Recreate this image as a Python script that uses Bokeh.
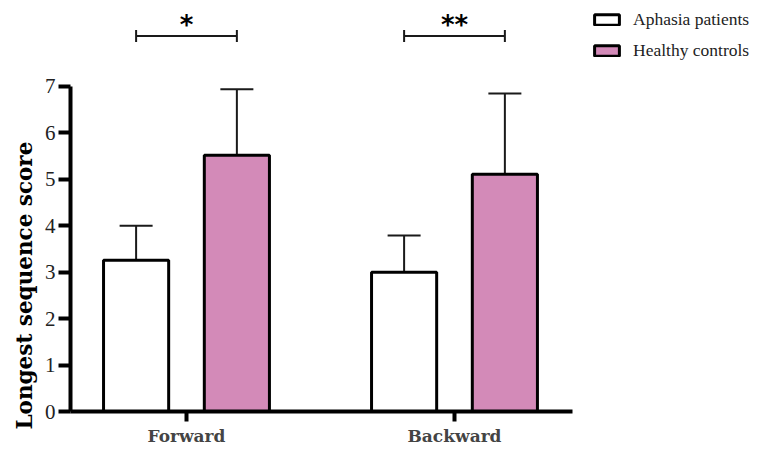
from bokeh.plotting import figure
from bokeh.models import (ColumnDataSource, Range1d, FixedTicker, Whisker, TeeHead,
                          Legend, LegendItem, Title)
from bokeh.core.properties import value
from bokeh.embed import file_html
from bokeh.resources import INLINE

categories = ["Forward", "Backward"]
aphasia_mean = [3.26, 3.00]
aphasia_lower = [2.57, 2.22]
aphasia_upper = [4.00, 3.79]
healthy_mean = [5.52, 5.11]
healthy_lower = [4.14, 3.42]
healthy_upper = [6.94, 6.85]
significance = ["*", "**"]
y_ticks = [0, 1, 2, 3, 4, 5, 6, 7]

SERIF = "Liberation Serif"
BOLD_SERIF = "DejaVu Serif"
PINK = "#d38ab8"
INK = "#000000"
ERR = "#1a1a1a"

xc = [1, 2]
off = 0.188
bw = 0.243
x_a = [x - off for x in xc]
x_h = [x + off for x in xc]

FRAME_H = 411
p = figure(width=753, height=448, output_backend="svg", toolbar_location=None,
           x_range=Range1d(0.5672, 0.5672 + 683 / 268), y_range=Range1d(0, FRAME_H / 46.43),
           min_border_left=70, min_border_right=0, min_border_top=0, min_border_bottom=37)
p.outline_line_color = None
p.xgrid.visible = False
p.ygrid.visible = False

src_a = ColumnDataSource(dict(x=x_a, top=aphasia_mean, lo=aphasia_lower, hi=aphasia_upper))
src_h = ColumnDataSource(dict(x=x_h, top=healthy_mean, lo=healthy_lower, hi=healthy_upper))

r_a = p.vbar(x="x", top="top", bottom=0, width=bw, source=src_a,
             fill_color="white", line_color=INK, line_width=3)
r_h = p.vbar(x="x", top="top", bottom=0, width=bw, source=src_h,
             fill_color=PINK, line_color=INK, line_width=3)

for s in (src_a, src_h):
    w = Whisker(base="x", lower="lo", upper="hi", source=s,
                line_color=ERR, line_width=2,
                upper_head=TeeHead(size=33, line_width=2, line_color=ERR),
                lower_head=TeeHead(size=33, line_width=2, line_color=ERR))
    p.add_layout(w)

# significance brackets
br_y = 8.087
cap = 0.13
p.segment(x0=x_a, y0=[br_y] * 2, x1=x_h, y1=[br_y] * 2, line_color=ERR, line_width=2)
p.segment(x0=x_a, y0=[br_y - cap] * 2, x1=x_a, y1=[br_y + cap] * 2, line_color=ERR, line_width=2)
p.segment(x0=x_h, y0=[br_y - cap] * 2, x1=x_h, y1=[br_y + cap] * 2, line_color=ERR, line_width=2)
p.text(x=xc, y=[br_y + 0.23] * 2, text=significance, text_align="center", text_baseline="alphabetic",
       text_font=value("DejaVu Sans"), text_font_style="bold", text_font_size="26px", text_color=INK)

# axes
p.yaxis.ticker = FixedTicker(ticks=y_ticks)
p.yaxis.bounds = (0, 7)
p.yaxis.axis_line_width = 4
p.yaxis.major_tick_line_width = 4
p.yaxis.major_tick_out = 12
p.yaxis.major_tick_in = 0
p.yaxis.minor_tick_line_color = None
p.yaxis.major_label_text_font = SERIF
p.yaxis.major_label_text_font_size = "21px"
p.yaxis.major_label_text_color = "#222222"
p.yaxis.major_label_standoff = 3

ytitle = Title(text="Longest sequence score", align="left", offset=-18, standoff=10,
               text_font=BOLD_SERIF, text_font_style="bold", text_font_size="21.5px",
               text_color=INK)
p.add_layout(ytitle, "left")

p.xaxis.ticker = FixedTicker(ticks=xc)
p.xaxis.major_label_overrides = {1: categories[0], 2: categories[1]}
p.xaxis.bounds = (0.5672, 2.44)
p.xaxis.axis_line_width = 4
p.xaxis.major_tick_line_width = 4
p.xaxis.major_tick_out = 10
p.xaxis.major_tick_in = 0
p.xaxis.minor_tick_line_color = None
p.xaxis.major_label_text_font = BOLD_SERIF
p.xaxis.major_label_text_font_style = "bold"
p.xaxis.major_label_text_font_size = "17px"
p.xaxis.major_label_standoff = 4

legend = Legend(items=[LegendItem(label="Aphasia patients", renderers=[r_a]),
                       LegendItem(label="Healthy controls", renderers=[r_h])],
                location=(521, 350), orientation="vertical",
                glyph_width=31, glyph_height=13, label_height=10, spacing=10,
                label_standoff=11, padding=0, margin=0,
                border_line_color=None, background_fill_alpha=0,
                label_text_font=SERIF, label_text_font_size="17.5px", label_text_color="#222222")
p.add_layout(legend)

open("out.html", "w").write(file_html(p, INLINE))
